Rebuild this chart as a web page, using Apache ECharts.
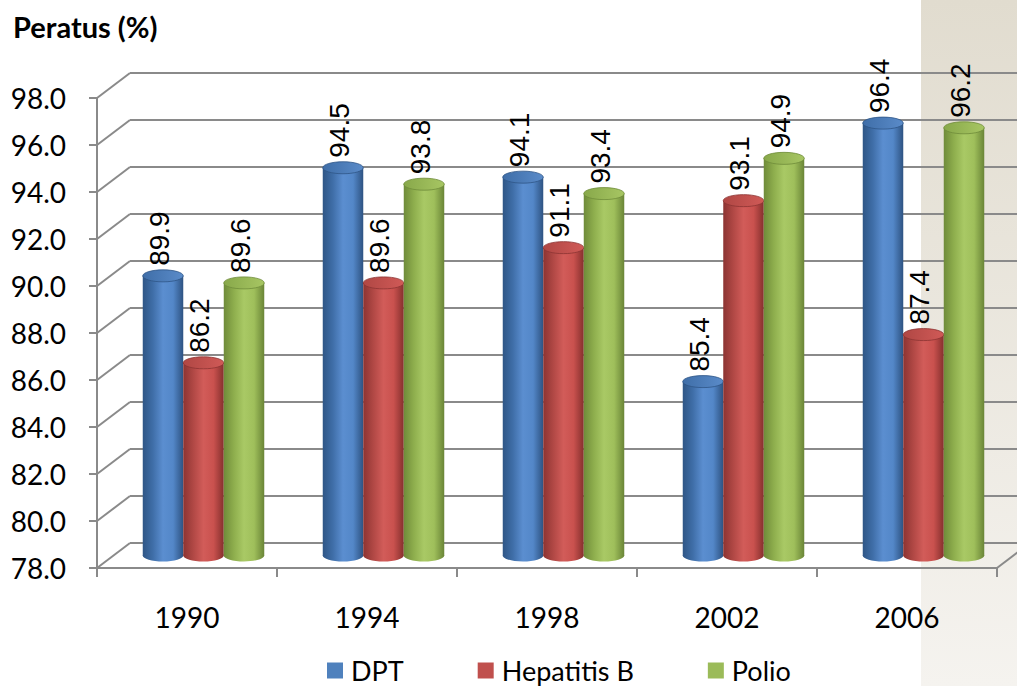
<!DOCTYPE html>
<html>
<head>
<meta charset="utf-8">
<title>Peratus (%)</title>
<script src="https://cdn.jsdelivr.net/npm/echarts@6/dist/echarts.min.js"></script>
<style>
  html, body { margin: 0; padding: 0; background: #ffffff; }
  #chart { width: 1017px; height: 686px; }
</style>
</head>
<body>
<div id="chart"></div>
<script>
// Coverage data (percent) per survey year
const years = ['1990', '1994', '1998', '2002', '2006'];
const dpt = [89.9, 94.5, 94.1, 85.4, 96.4];
const hepatitisB = [86.2, 89.6, 91.1, 93.1, 87.4];
const polio = [89.6, 93.8, 93.4, 94.9, 96.2];
const seriesNames = ['DPT', 'Hepatitis B', 'Polio'];
const yTicks = [78, 80, 82, 84, 86, 88, 90, 92, 94, 96, 98];

// Layout / styling
const Y_MIN = 78, Y_MAX = 98, Y_STEP = 2;
const FRONT = { left: 97, top: 98, width: 900, height: 470 };
const DX = 33, DY = 25;            // depth offset of the back wall
const BAR_W = 40.5, RY = 6;
const GRID_COLOR = '#8a8a8a';
const SANS = 'Lato, "Open Sans", sans-serif';
const palettes = [
  { base: '#4f81bd', stops: ['#2f5686', '#3f6ea8', '#5b8ed0', '#5387c8', '#2e5382'], top: ['#3f6ea8', '#5a8bc9'] },
  { base: '#c0504d', stops: ['#8c3432', '#b14845', '#d25c59', '#c9514e', '#86302e'], top: ['#b04744', '#d05a57'] },
  { base: '#9bbb59', stops: ['#6f8b3a', '#8eae4d', '#a9c965', '#9fbf5b', '#6a8537'], top: ['#88a84a', '#a7c663'] }
];
const valueSets = [dpt, hepatitisB, polio];

function grad(colors) {
  return new echarts.graphic.LinearGradient(0, 0, 1, 0, colors.map((c, i) => ({ offset: i / (colors.length - 1), color: c })));
}

function cylinderRenderer(si) {
  const pal = palettes[si];
  return function (params, api) {
    const cat = api.value(0), v = api.value(1);
    const top = api.coord([cat, v]);
    const base = api.coord([cat, Y_MIN]);
    const cx = top[0] + (si - 1) * BAR_W;
    const x0 = cx - BAR_W / 2;
    return {
      type: 'group',
      children: [
        { type: 'ellipse', shape: { cx: cx, cy: base[1], rx: BAR_W / 2, ry: RY }, style: { fill: grad(pal.stops) } },
        { type: 'rect', shape: { x: x0, y: top[1], width: BAR_W, height: base[1] - top[1] }, style: { fill: grad(pal.stops) } },
        { type: 'ellipse', shape: { cx: cx, cy: top[1], rx: BAR_W / 2, ry: RY },
          style: { fill: grad(pal.top), stroke: pal.stops[0], lineWidth: 0.8 } },
        { type: 'text', x: cx - 4, y: top[1] - RY - 4, rotation: Math.PI / 2,
          style: { text: v.toFixed(1), fill: '#000', font: '28px "Liberation Sans", Arial, sans-serif',
                   align: 'left', verticalAlign: 'middle' } }
      ]
    };
  };
}

// Diagonal edges joining front axis ticks to the back wall
function edgeRenderer(params, api) {
  const v = api.value(0);
  const p = api.coord([0, v]);
  const cs = params.coordSys;
  const children = [{ type: 'line', shape: { x1: cs.x, y1: p[1], x2: cs.x + DX, y2: p[1] - DY },
                      style: { stroke: GRID_COLOR, lineWidth: 2 } }];
  if (v === Y_MIN) {
    const xr = cs.x + cs.width;
    children.push({ type: 'line', shape: { x1: xr, y1: p[1], x2: xr + DX, y2: p[1] - DY },
                    style: { stroke: GRID_COLOR, lineWidth: 2 } });
  }
  return { type: 'group', children: children };
}

const chart = echarts.init(document.getElementById('chart'), null, { renderer: 'svg' });

// Empty flat bar series carry the legend swatches (plain squares)
const series = seriesNames.map((name, si) => ({
  type: 'bar', name: name, xAxisIndex: 2, yAxisIndex: 2, data: [],
  itemStyle: { color: palettes[si].base }
}));
series.push({
  type: 'custom', name: '_edges', xAxisIndex: 0, yAxisIndex: 0, z: 1, silent: true,
  renderItem: edgeRenderer, data: yTicks.map(t => [t]), encode: { y: 0 }
});
seriesNames.forEach((name, si) => {
  series.push({
    type: 'custom', name: name, xAxisIndex: 2, yAxisIndex: 2, z: 5,
    itemStyle: { color: palettes[si].base },
    renderItem: cylinderRenderer(si),
    data: valueSets[si].map((v, i) => [i, v]),
    encode: { x: 0, y: 1 }
  });
});

const yBase = { type: 'value', min: Y_MIN, max: Y_MAX, interval: Y_STEP };

chart.setOption({
  animation: false,
  backgroundColor: '#ffffff',
  graphic: [{
    type: 'rect', left: 921, top: 0, z: -10, silent: true,
    shape: { width: 96, height: 686 },
    style: { fill: new echarts.graphic.LinearGradient(0, 0, 0, 1, [
      { offset: 0, color: '#e1dccf' }, { offset: 1, color: '#f5f3ef' }]) }
  }],
  title: {
    text: 'Peratus (%)', left: 8, top: 7,
    textStyle: { fontFamily: SANS, fontWeight: 'bold', fontSize: 29, color: '#000' }
  },
  legend: {
    data: seriesNames.map(n => ({ name: n, icon: 'rect' })),
    left: 322, top: 652, itemWidth: 16, itemHeight: 16, itemGap: 74,
    textStyle: { fontFamily: SANS, fontSize: 27, color: '#000', padding: [0, 0, 0, 3] }
  },
  grid: [
    { left: FRONT.left, top: FRONT.top, width: FRONT.width, height: FRONT.height },
    { left: FRONT.left + DX, top: FRONT.top - DY, width: FRONT.width, height: FRONT.height },
    { left: FRONT.left + DX / 2, top: FRONT.top - DY / 2, width: FRONT.width, height: FRONT.height }
  ],
  xAxis: [
    { gridIndex: 0, type: 'category', data: years, boundaryGap: true,
      axisLine: { lineStyle: { color: GRID_COLOR, width: 2 } },
      axisTick: { show: true, length: 9, interval: 0, lineStyle: { color: GRID_COLOR, width: 2 } },
      axisLabel: { margin: 35, fontFamily: SANS, fontSize: 28, color: '#000' } },
    { gridIndex: 1, type: 'category', data: years, show: false },
    { gridIndex: 2, type: 'category', data: years, show: false }
  ],
  yAxis: [
    Object.assign({ gridIndex: 0 }, yBase, {
      axisLine: { show: true, lineStyle: { color: GRID_COLOR, width: 2 } },
      axisTick: { show: true, length: 8, lineStyle: { color: GRID_COLOR, width: 2 } },
      splitLine: { show: false },
      axisLabel: { margin: 31, fontFamily: SANS, fontSize: 28, color: '#000',
                   formatter: v => v.toFixed(1) } }),
    Object.assign({ gridIndex: 1 }, yBase, {
      axisLine: { show: false }, axisTick: { show: false }, axisLabel: { show: false },
      splitLine: { show: true, lineStyle: { color: GRID_COLOR, width: 2 } } }),
    Object.assign({ gridIndex: 2 }, yBase, { show: false })
  ],
  series: series
});
</script>
</body>
</html>
